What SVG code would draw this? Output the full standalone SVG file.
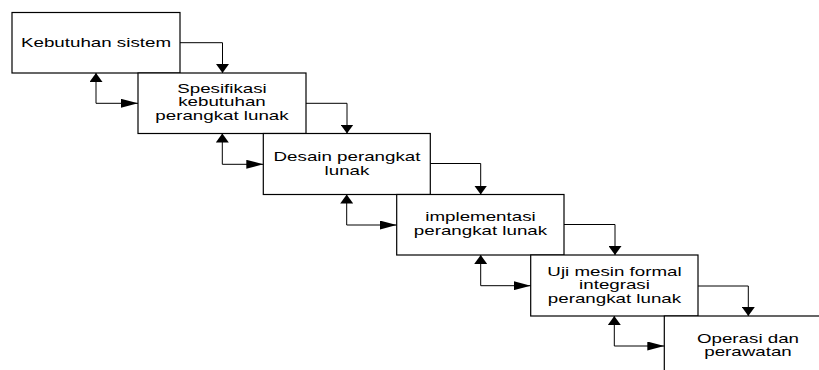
<svg xmlns="http://www.w3.org/2000/svg" width="819" height="370" viewBox="0 0 819 370">
  <style>
    .box { fill: #fff; stroke: #000; stroke-width: 1.2; }
    .lbl { font-family: "Liberation Sans", Arial, sans-serif; font-size: 12.5px; fill: #000; text-anchor: middle; }
    .con { fill: none; stroke: #000; stroke-width: 1; }
  </style>
  <defs>
    <marker id="av" markerUnits="userSpaceOnUse" markerWidth="10" markerHeight="13" refX="9" refY="6.5" orient="auto">
      <polygon points="0,0 9,6.5 0,13" fill="#000"/>
    </marker>
    <marker id="avs" markerUnits="userSpaceOnUse" markerWidth="10" markerHeight="13" refX="9" refY="6.5" orient="auto-start-reverse">
      <polygon points="0,0 9,6.5 0,13" fill="#000"/>
    </marker>
    <marker id="ah" markerUnits="userSpaceOnUse" markerWidth="18" markerHeight="9" refX="17" refY="4.5" orient="auto">
      <polygon points="0,0 17,4.5 0,9" fill="#000"/>
    </marker>
  </defs>

  <g id="node1">
    <rect class="box" x="12" y="12.5" width="168" height="60.5"/>
    <text class="lbl" transform="translate(96 0) scale(1.5 1)" x="0" y="47">Kebutuhan sistem</text>
  </g>
  <g id="node2">
    <rect class="box" x="138" y="73" width="168" height="60.5"/>
    <text class="lbl" transform="translate(222 0) scale(1.5 1)" x="0" y="93">Spesifikasi</text>
    <text class="lbl" transform="translate(222 0) scale(1.5 1)" x="0" y="106.5">kebutuhan</text>
    <text class="lbl" transform="translate(222 0) scale(1.5 1)" x="0" y="120">perangkat lunak</text>
  </g>
  <g id="node3">
    <rect class="box" x="263.3" y="133.5" width="167" height="61"/>
    <text class="lbl" transform="translate(347 0) scale(1.5 1)" x="0" y="161.5">Desain perangkat</text>
    <text class="lbl" transform="translate(347 0) scale(1.5 1)" x="0" y="175">lunak</text>
  </g>
  <g id="node4">
    <rect class="box" x="396.7" y="194.5" width="167.3" height="60.5"/>
    <text class="lbl" transform="translate(480.5 0) scale(1.5 1)" x="0" y="221.5">implementasi</text>
    <text class="lbl" transform="translate(480.5 0) scale(1.5 1)" x="0" y="235.5">perangkat lunak</text>
  </g>
  <g id="node5">
    <rect class="box" x="530.7" y="255" width="167.3" height="61"/>
    <text class="lbl" transform="translate(614.5 0) scale(1.5 1)" x="0" y="276">Uji mesin formal</text>
    <text class="lbl" transform="translate(614.5 0) scale(1.5 1)" x="0" y="289.5">integrasi</text>
    <text class="lbl" transform="translate(614.5 0) scale(1.5 1)" x="0" y="303">perangkat lunak</text>
  </g>
  <g id="node6">
    <rect class="box" x="664.3" y="316" width="168" height="61"/>
    <text class="lbl" transform="translate(748 0) scale(1.5 1)" x="0" y="343">Operasi dan</text>
    <text class="lbl" transform="translate(748 0) scale(1.5 1)" x="0" y="356">perawatan</text>
  </g>

  <g id="connectors">
    <!-- forward -->
    <path class="con" d="M180,42.7 H222.5 V73" marker-end="url(#av)"/>
    <path class="con" d="M306,103.3 H347 V133.5" marker-end="url(#av)"/>
    <path class="con" d="M430.3,163.5 H480.7 V194.5" marker-end="url(#av)"/>
    <path class="con" d="M564,224.5 H615 V255" marker-end="url(#av)"/>
    <path class="con" d="M698,286 H748.3 V316" marker-end="url(#av)"/>
    <!-- feedback -->
    <path class="con" d="M96,73 V103.3 H138" marker-start="url(#avs)" marker-end="url(#ah)"/>
    <path class="con" d="M222.3,133.5 V164.3 H263.3" marker-start="url(#avs)" marker-end="url(#ah)"/>
    <path class="con" d="M346.7,194.5 V225 H396.7" marker-start="url(#avs)" marker-end="url(#ah)"/>
    <path class="con" d="M480.7,255 V285.7 H530.7" marker-start="url(#avs)" marker-end="url(#ah)"/>
    <path class="con" d="M614.3,316 V346 H664.3" marker-start="url(#avs)" marker-end="url(#ah)"/>
  </g>
</svg>
